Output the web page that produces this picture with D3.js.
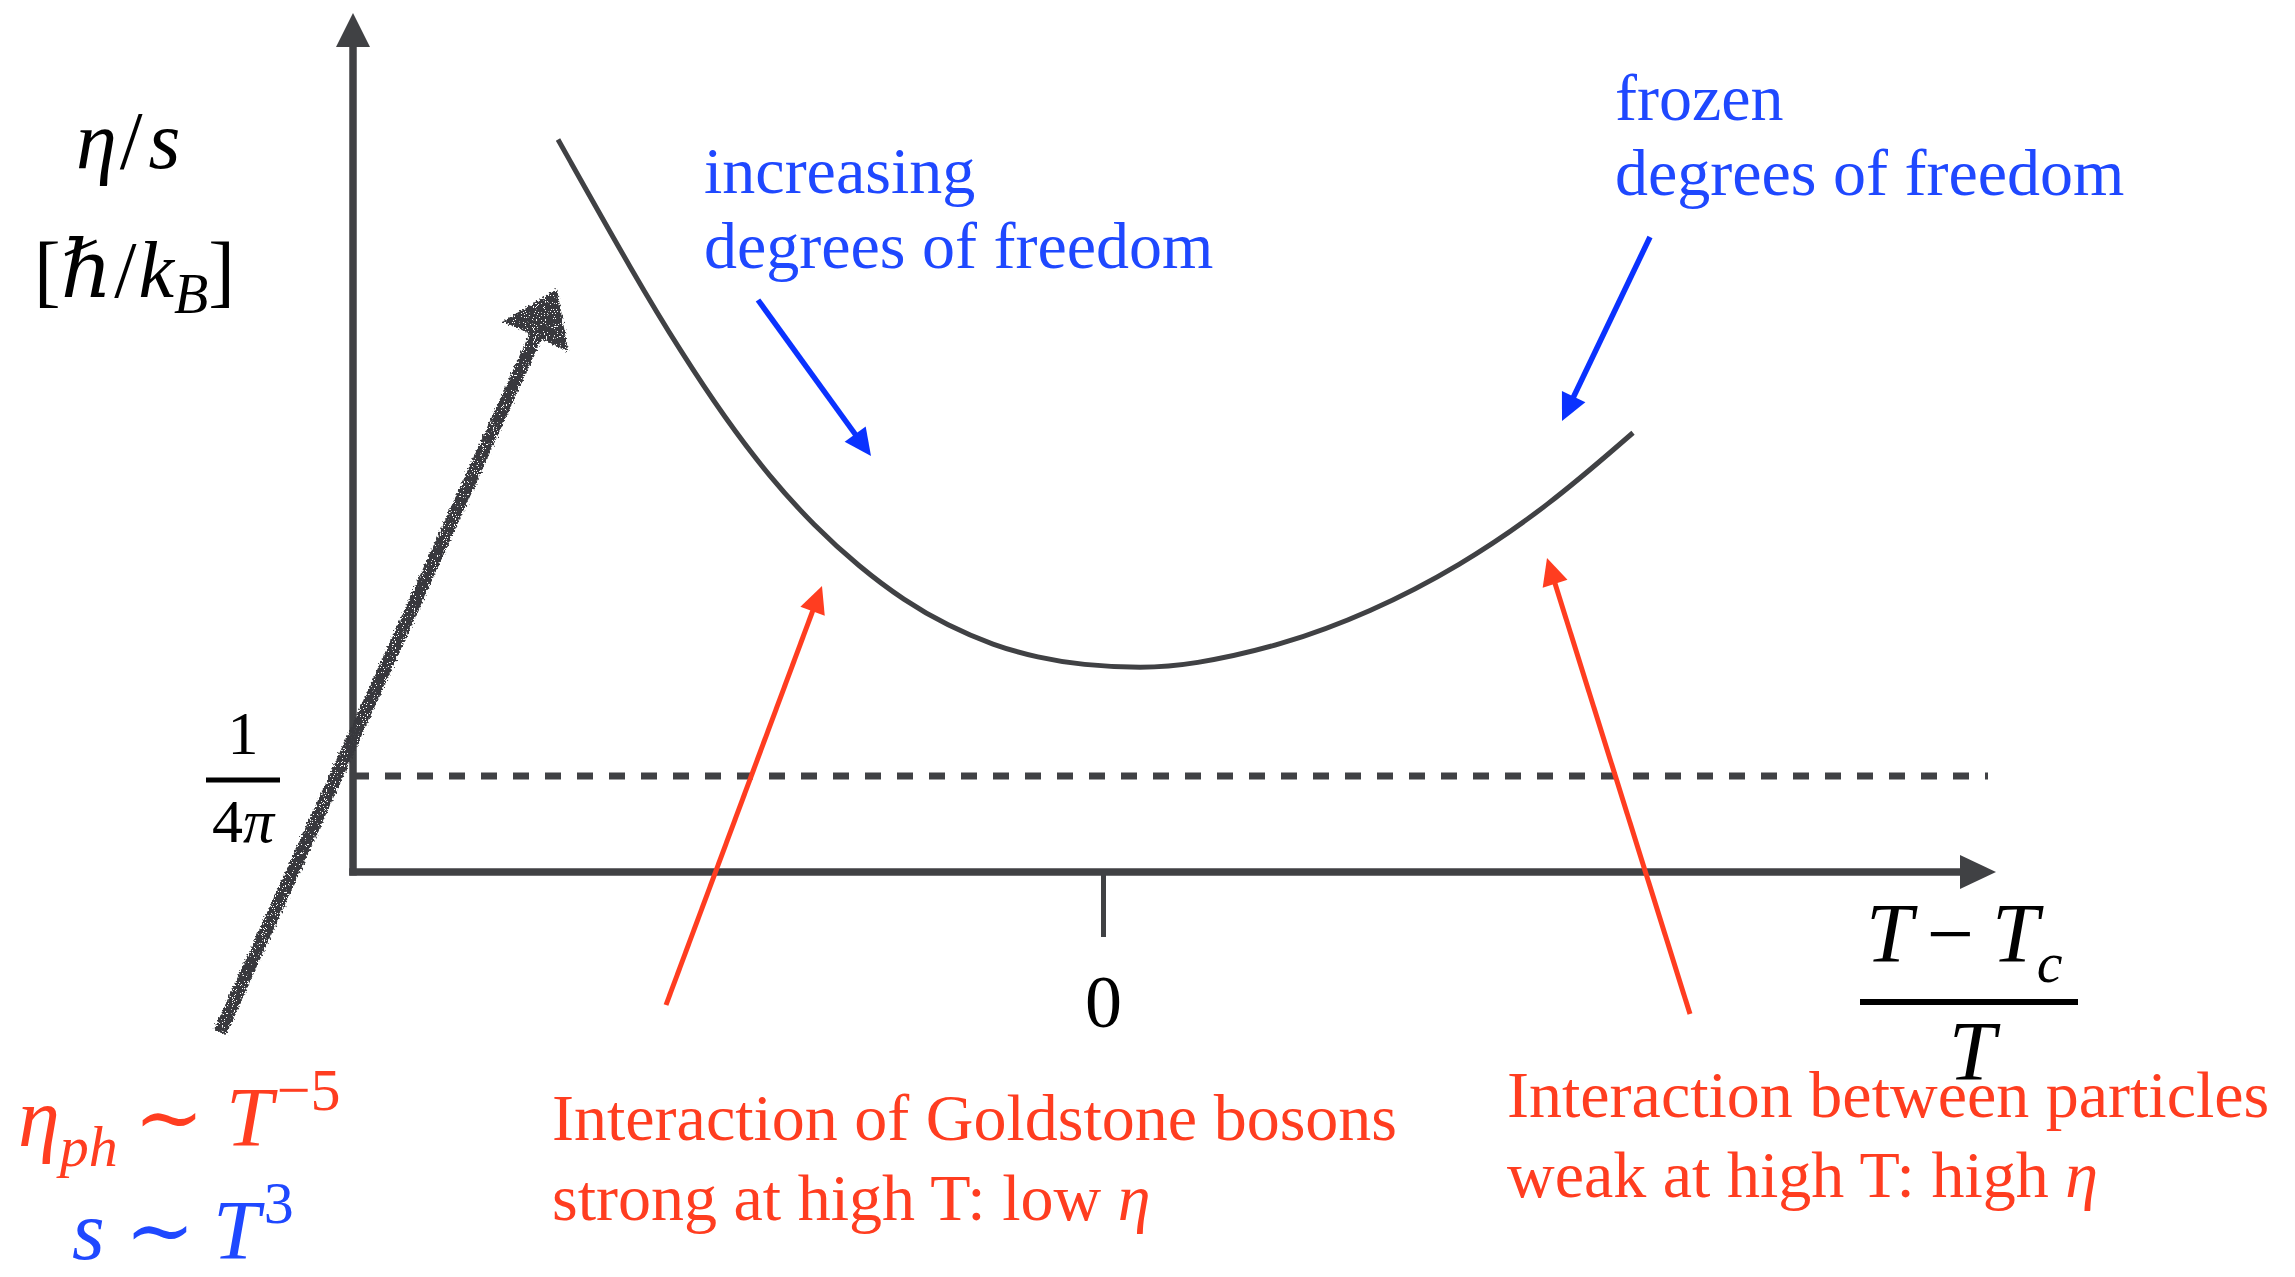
<!DOCTYPE html>
<html>
<head>
<meta charset="utf-8">
<script src="https://cdn.jsdelivr.net/npm/d3@7"></script>
<style>
  html, body { margin: 0; padding: 0; background: #ffffff; }
  svg { display: block; }
  text { font-family: "Liberation Serif", "Times New Roman", "DejaVu Serif", serif; }
</style>
</head>
<body>
<svg id="chart" width="2295" height="1277"></svg>
<script>
// Shear viscosity over entropy density across the transition, (T - Tc)/T on x
const curveX = [-1.09, -0.934, -0.844, -0.756, -0.666, -0.578, -0.488, -0.398, -0.31, -0.22,
                -0.13, -0.042, 0.078, 0.176, 0.356, 0.534, 0.712, 0.89, 1.06];
const curveY = [0.607, 0.492, 0.431, 0.376, 0.327, 0.287, 0.253, 0.225, 0.204, 0.188,
                0.1775, 0.1715, 0.1688, 0.1715, 0.1875, 0.215, 0.253, 0.303, 0.364];
const kssBound = 1 / (4 * Math.PI);   // lower bound on eta/s
const xTicks = [0];
const xTickLabels = ["0"];

const W = 2295, H = 1277;
const ink = "#404144", red = "#ff3d20", blueText = "#1f48ff", blueArrow = "#0a32ff";
const svg = d3.select("#chart");
svg.append("rect").attr("width", W).attr("height", H).attr("fill", "#fff");

const x = d3.scaleLinear().domain([-1.5, 1.78]).range([353, 1993]);
const y = d3.scaleLinear().domain([0, 0.711]).range([872, 14]);

// rough chalk texture for the hand-drawn arrow
const defs = svg.append("defs");
const f = defs.append("filter").attr("id", "chalk")
  .attr("x", "-20%").attr("y", "-20%").attr("width", "140%").attr("height", "140%");
f.append("feTurbulence").attr("type", "fractalNoise").attr("baseFrequency", 0.5)
  .attr("numOctaves", 2).attr("seed", 4).attr("result", "noise");
f.append("feDisplacementMap").attr("in", "SourceGraphic").attr("in2", "noise")
  .attr("scale", 7).attr("xChannelSelector", "R").attr("yChannelSelector", "G").attr("result", "disp");
f.append("feTurbulence").attr("type", "fractalNoise").attr("baseFrequency", 0.9)
  .attr("numOctaves", 2).attr("seed", 9).attr("result", "grain");
f.append("feColorMatrix").attr("in", "grain").attr("type", "matrix")
  .attr("values", "0 0 0 0 0  0 0 0 0 0  0 0 0 0 0  30 0 0 0 -9.3").attr("result", "mask");
f.append("feComposite").attr("in", "disp").attr("in2", "mask").attr("operator", "in");

function arrow(g, x1, y1, x2, y2, color, width, headLen, headW, extra) {
  const dx = x2 - x1, dy = y2 - y1, L = Math.hypot(dx, dy);
  const ux = dx / L, uy = dy / L, px = -uy, py = ux;
  const bx = x2 - ux * headLen, by = y2 - uy * headLen;
  const grp = g.append("g");
  if (extra) grp.attr("filter", extra);
  grp.append("line").attr("x1", x1).attr("y1", y1)
    .attr("x2", bx + ux * 2).attr("y2", by + uy * 2)
    .attr("stroke", color).attr("stroke-width", width);
  grp.append("path")
    .attr("d", d3.line()([[x2, y2], [bx + px * headW / 2, by + py * headW / 2], [bx - px * headW / 2, by - py * headW / 2]]) + "Z")
    .attr("fill", color);
  return grp;
}

// KSS bound dashed line
svg.append("line")
  .attr("x1", x(-1.5)).attr("x2", x(1.77))
  .attr("y1", y(kssBound)).attr("y2", y(kssBound))
  .attr("stroke", ink).attr("stroke-width", 7).attr("stroke-dasharray", "16 16");

// axes with arrow heads
svg.append("line").attr("x1", x(-1.5)).attr("x2", x(-1.5))
  .attr("y1", y(0) + 3.5).attr("y2", 46).attr("stroke", ink).attr("stroke-width", 7.5);
svg.append("path").attr("d", d3.line()([[x(-1.5), 13], [x(-1.5) - 17, 47], [x(-1.5) + 17, 47]]) + "Z").attr("fill", ink);
svg.append("line").attr("x1", x(-1.5) - 3.75).attr("x2", 1962)
  .attr("y1", y(0)).attr("y2", y(0)).attr("stroke", ink).attr("stroke-width", 7.5);
svg.append("path").attr("d", d3.line()([[1996, y(0)], [1960, y(0) - 17], [1960, y(0) + 17]]) + "Z").attr("fill", ink);

// x tick at the critical temperature
const xAxis = d3.axisBottom(x).tickValues(xTicks).tickFormat((d, i) => xTickLabels[i])
  .tickSizeInner(65).tickSizeOuter(0).tickPadding(37);
const gx = svg.append("g").attr("transform", `translate(0,${y(0)})`).call(xAxis);
gx.select(".domain").remove();
gx.selectAll(".tick line").attr("stroke", ink).attr("stroke-width", 5);
gx.selectAll(".tick text").attr("fill", "#000").attr("font-size", 74)
  .style("font-family", "'Liberation Serif', serif");

// eta/s curve
const pts = curveX.map((v, i) => [x(v), y(curveY[i])]);
svg.append("path")
  .attr("d", d3.line().curve(d3.curveBasis)(pts))
  .attr("fill", "none").attr("stroke", ink).attr("stroke-width", 5).attr("stroke-linecap", "butt");

// y label eta/s and units
const yl = svg.append("text").attr("x", 76).attr("y", 168).attr("font-size", 82).attr("fill", "#000");
yl.append("tspan").attr("font-style", "italic").text("η");
yl.append("tspan").attr("dx", 3).text("/");
yl.append("tspan").attr("dx", 6).attr("font-style", "italic").text("s");

const yu = svg.append("text").attr("x", 34).attr("y", 297).attr("font-size", 80).attr("fill", "#000");
yu.append("tspan").text("[");
yu.append("tspan").attr("font-style", "italic").text("ℏ");
yu.append("tspan").attr("dx", 2).text("/");
yu.append("tspan").attr("dx", 2).attr("font-style", "italic").text("k");
yu.append("tspan").attr("font-style", "italic").attr("font-size", 56).attr("dy", 16).text("B");
yu.append("tspan").attr("dy", -16).text("]");

// 1/(4 pi) tick label
const fx = 243, fy = y(kssBound) + 4;
svg.append("text").attr("x", fx).attr("y", fy - 26).attr("text-anchor", "middle")
  .attr("font-size", 62).attr("fill", "#000").text("1");
svg.append("line").attr("x1", fx - 37).attr("x2", fx + 37).attr("y1", fy).attr("y2", fy)
  .attr("stroke", "#000").attr("stroke-width", 5);
const fd = svg.append("text").attr("x", fx).attr("y", fy + 62).attr("text-anchor", "middle")
  .attr("font-size", 62).attr("fill", "#000");
fd.append("tspan").text("4");
fd.append("tspan").attr("font-style", "italic").text("π");

// x label (T - Tc)/T
const xn = svg.append("text").attr("x", 1866).attr("y", 962).attr("font-size", 84).attr("fill", "#000");
xn.append("tspan").attr("font-style", "italic").text("T");
xn.append("tspan").attr("dx", 14).text("−");
xn.append("tspan").attr("dx", 18).attr("font-style", "italic").text("T");
xn.append("tspan").attr("font-style", "italic").attr("font-size", 58).attr("dy", 20).attr("dx", -2).text("c");
svg.append("line").attr("x1", 1860).attr("x2", 2078).attr("y1", 1002).attr("y2", 1002)
  .attr("stroke", "#000").attr("stroke-width", 6);
svg.append("text").attr("x", 1972).attr("y", 1080).attr("text-anchor", "middle")
  .attr("font-size", 84).attr("font-style", "italic").attr("fill", "#000").text("T");

// hand-drawn chalk arrow
arrow(svg, 220, 1032, 557, 289, "#38393c", 13, 52, 72, "url(#chalk)");

// annotation arrows
arrow(svg, 666, 1005, 822, 586, red, 5, 27, 26);
arrow(svg, 1690, 1014, 1547, 558, red, 5, 27, 26);
arrow(svg, 758, 300, 871, 456, blueArrow, 5.5, 27, 26);
arrow(svg, 1650, 237, 1562, 421, blueArrow, 5.5, 27, 26);

// text annotations
function lines(x0, y0, dy, rows, color, size) {
  const t = svg.append("text").attr("fill", color).attr("font-size", size);
  rows.forEach((r, i) => {
    const parts = Array.isArray(r) ? r : [[r, false]];
    parts.forEach((p, j) => {
      const ts = t.append("tspan").text(p[0]);
      if (j === 0) ts.attr("x", x0).attr("y", y0 + i * dy);
      if (p[1]) ts.attr("font-style", "italic");
    });
  });
}
lines(704, 193, 75, ["increasing", "degrees of freedom"], blueText, 66);
lines(1615, 120, 75, ["frozen", "degrees of freedom"], blueText, 66);
lines(552, 1140, 80, ["Interaction of Goldstone bosons", [["strong at high T: low ", false], ["η", true]]], red, 66);
lines(1507, 1117, 80, ["Interaction between particles", [["weak at high T: high ", false], ["η", true]]], red, 66);

// scaling laws
const e1 = svg.append("text").attr("x", 18).attr("y", 1146).attr("font-size", 84).attr("fill", red).attr("font-style", "italic");
e1.append("tspan").text("η");
e1.append("tspan").attr("font-size", 58).attr("dy", 20).text("ph");
e1.append("tspan").attr("font-style", "normal").attr("dy", -20).attr("dx", 16).text("∼");
e1.append("tspan").attr("dx", 22).text("T");
e1.append("tspan").attr("font-style", "normal").attr("font-size", 60).attr("dy", -36).attr("dx", 4).text("−5");

const e2 = svg.append("text").attr("x", 72).attr("y", 1259).attr("font-size", 84).attr("fill", blueText).attr("font-style", "italic");
e2.append("tspan").text("s");
e2.append("tspan").attr("font-style", "normal").attr("dx", 20).text("∼");
e2.append("tspan").attr("dx", 18).text("T");
e2.append("tspan").attr("font-style", "normal").attr("font-size", 60).attr("dy", -36).attr("dx", 4).text("3");
</script>
</body>
</html>
